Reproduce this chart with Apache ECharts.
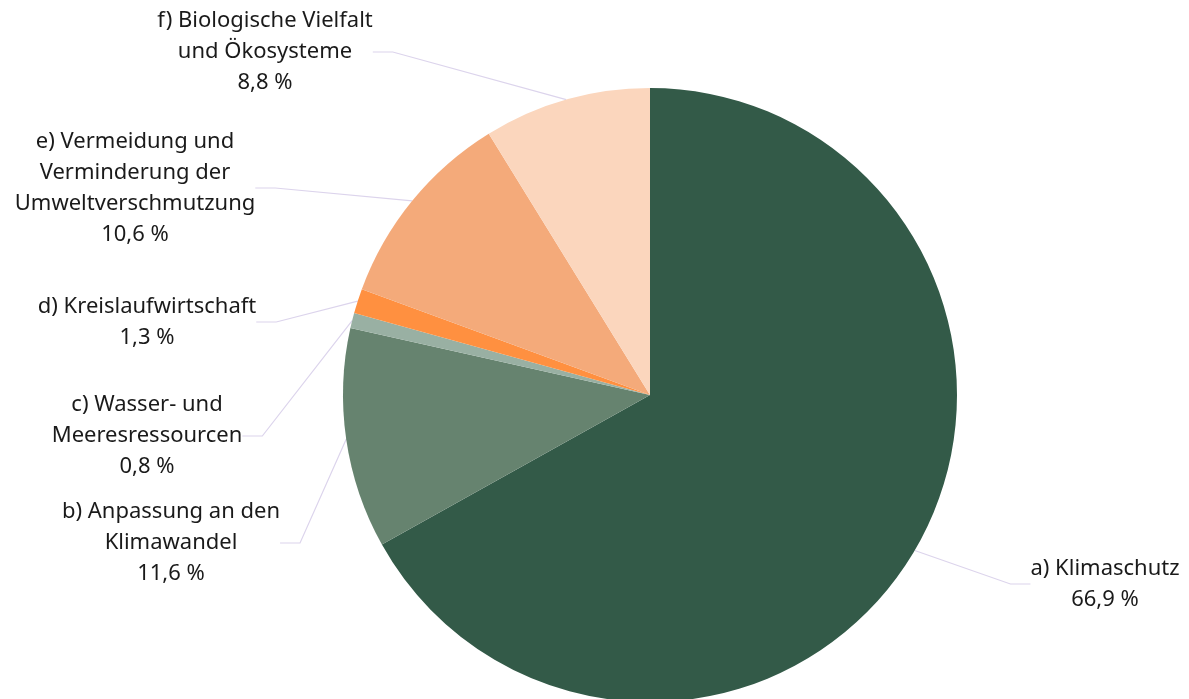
<!DOCTYPE html>
<html>
<head>
<meta charset="utf-8">
<script src="https://cdn.jsdelivr.net/npm/echarts@6/dist/echarts.min.js"></script>
<style>
html,body{margin:0;padding:0;background:#fff;}
#chart{width:1189px;height:699px;}
</style>
</head>
<body>
<div id="chart"></div>
<script>
// Anteile je Umweltziel (in %)
const labels = [
    'a) Klimaschutz',
    'b) Anpassung an den\nKlimawandel',
    'c) Wasser- und\nMeeresressourcen',
    'd) Kreislaufwirtschaft',
    'e) Vermeidung und\nVerminderung der\nUmweltverschmutzung',
    'f) Biologische Vielfalt\nund Ökosysteme'
]
const values = [66.9, 11.6, 0.8, 1.3, 10.6, 8.8]
const colors = ['#335a48', '#66836f', '#99b0a3', '#ff9040', '#f4aa7a', '#fbd6bd']

// Labelpositionen (Mitte des Textblocks)
const labelPos = [
    [1105, 584],
    [171, 543],
    [147, 436],
    [147, 322],
    [135, 188],
    [265, 52]
]

const chart = echarts.init(document.getElementById('chart'))
chart.setOption({
    animation: false,
    color: colors,
    series: [{
        type: 'pie',
        center: [650, 395],
        radius: 307,
        startAngle: 90,
        clockwise: true,
        data: labels.map((name, i) => ({ name: name, value: values[i] })),
        label: {
            formatter: p => p.name + '\n' + String(p.value).replace('.', ',') + ' %',
            fontFamily: 'Noto Sans',
            fontSize: 22,
            lineHeight: 31,
            color: '#1a1a1a',
            align: 'center'
        },
        labelLine: {
            show: true,
            length: 30,
            length2: 20,
            lineStyle: { color: '#dcd4ec', width: 1.2 }
        },
        labelLayout: function (params) {
            const p = labelPos[params.dataIndex]
            return { x: p[0], y: p[1], align: 'center', verticalAlign: 'middle' }
        },
        itemStyle: { borderWidth: 0 },
        emphasis: { disabled: true }
    }]
})
</script>
</body>
</html>
